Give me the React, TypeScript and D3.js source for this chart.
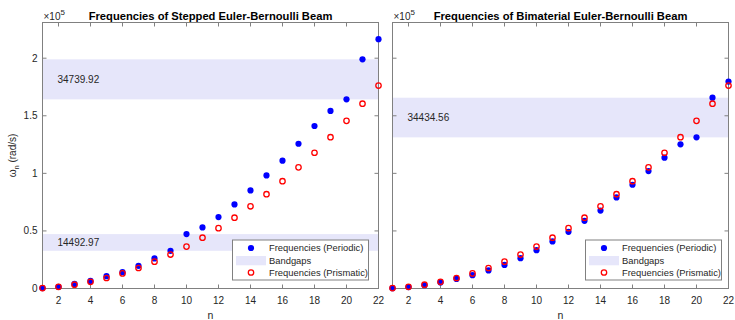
import React from 'react';
import * as d3 from 'd3';

// mode number
const modes = [1, 2, 3, 4, 5, 6, 7, 8, 9, 10, 11, 12, 13, 14, 15, 16, 17, 18, 19, 20, 21, 22];

// natural frequencies (rad/s)
const steppedPeriodic = [
  400, 1400, 4000, 6600, 10700, 14200, 19700, 26100, 32757, 47250, 53000,
  62000, 73000, 85200, 98200, 111000, 125700, 141100, 154200, 164260, 199000, 216500,
];
const bimaterialPeriodic = [
  300, 1200, 2900, 5300, 8300, 11600, 15700, 20500, 26300, 33300, 40900,
  49200, 58800, 67700, 79100, 90100, 102000, 113600, 125200, 131260, 165695, 179700,
];
const prismatic = [
  360, 1460, 3300, 5800, 9100, 13100, 17800, 23300, 29500, 36400, 44100,
  52400, 61500, 71400, 81900, 93200, 105200, 117900, 131400, 145600, 160500, 176200,
];

// bandgaps [lower, upper] and their widths
const steppedBands: [number, number][] = [[32757, 47250], [164260, 199000]];
const steppedBandLabels = ['14492.97', '34739.92'];
const bimaterialBands: [number, number][] = [[131260, 165695]];
const bimaterialBandLabels = ['34434.56'];

const xTicks = [2, 4, 6, 8, 10, 12, 14, 16, 18, 20, 22];
const yTicks = [0, 50000, 100000, 150000, 200000];

const FONT = '"Liberation Sans", Arial, Helvetica, sans-serif';
const TEXT = '#262626';
const AXIS = '#808080';
const BLUE = '#0000FF';
const RED = '#FF0000';
const BAND = '#E6E6FA';

const top = 22.5;
const bottom = 288.5;
const panelW = 336;

interface PanelProps {
  left: number;
  title: string;
  periodic: number[];
  bands: [number, number][];
  bandLabels: string[];
  showYLabels: boolean;
  legendGap: number;
}

function Panel({ left, title, periodic, bands, bandLabels, showYLabels, legendGap }: PanelProps) {
  const right = left + panelW;
  const x = d3.scaleLinear().domain([1, 22]).range([left, right]);
  const y = d3.scaleLinear().domain([0, 231000]).range([bottom, top]);
  const tl = 4;

  const lgW = 136;
  const lgH = 40;
  const lgX = right - legendGap - lgW;
  const lgY = bottom - 8.5 - lgH;

  return (
    <g>
      {/* bandgaps */}
      {bands.map((b, i) => (
        <g key={'b' + i}>
          <rect x={left} y={y(b[1])} width={panelW} height={y(b[0]) - y(b[1])} fill={BAND} />
          <text
            x={x(2) - 1}
            y={(y(b[0]) + y(b[1])) / 2}
            dy="0.35em"
            fontSize={10}
            fill={TEXT}
            fontFamily={FONT}
          >
            {bandLabels[i]}
          </text>
        </g>
      ))}

      {/* box and ticks */}
      <rect x={left} y={top} width={panelW} height={bottom - top} fill="none" stroke={AXIS} strokeWidth={1} />
      {xTicks.map((t) => (
        <g key={'x' + t}>
          <line x1={x(t)} x2={x(t)} y1={bottom} y2={bottom - tl} stroke={AXIS} />
          <line x1={x(t)} x2={x(t)} y1={top} y2={top + tl} stroke={AXIS} />
          <text x={x(t)} y={303.5} textAnchor="middle" fontSize={10} fill={TEXT} fontFamily={FONT}>
            {t}
          </text>
        </g>
      ))}
      {yTicks.map((t) => (
        <g key={'y' + t}>
          <line x1={left} x2={left + tl} y1={y(t)} y2={y(t)} stroke={AXIS} />
          <line x1={right} x2={right - tl} y1={y(t)} y2={y(t)} stroke={AXIS} />
          {showYLabels && (
            <text x={left - 5} y={y(t)} dy="0.35em" textAnchor="end" fontSize={10} fill={TEXT} fontFamily={FONT}>
              {d3.format('~g')(t / 1e5)}
            </text>
          )}
        </g>
      ))}

      {/* exponent */}
      <text x={left + 1} y={20} fontSize={10} fill={TEXT} fontFamily={FONT}>
        ×10<tspan dy={-5} fontSize={8}>5</tspan>
      </text>

      {/* title */}
      <text
        x={(left + right) / 2}
        y={19.5}
        textAnchor="middle"
        fontSize={11.2}
        fontWeight="bold"
        fill="#000"
        fontFamily={FONT}
      >
        {title}
      </text>

      {/* x label */}
      <text x={(left + right) / 2} y={318.5} textAnchor="middle" fontSize={10.5} fill={TEXT} fontFamily={FONT}>
        n
      </text>

      {/* points */}
      {modes.map((m, i) => (
        <circle key={'p' + m} cx={x(m)} cy={y(periodic[i])} r={3.1} fill={BLUE} />
      ))}
      {modes.map((m, i) => (
        <circle key={'q' + m} cx={x(m)} cy={y(prismatic[i])} r={2.7} fill="none" stroke={RED} strokeWidth={1.3} />
      ))}

      {/* legend */}
      <g transform={`translate(${lgX},${lgY})`}>
        <rect x={0} y={0} width={lgW} height={lgH} fill="#fff" stroke={AXIS} strokeWidth={1} />
        <circle cx={18.5} cy={8} r={3.1} fill={BLUE} />
        <rect x={3.5} y={16} width={30} height={9.3} fill={BAND} />
        <circle cx={18.5} cy={32.5} r={2.7} fill="none" stroke={RED} strokeWidth={1.3} />
        {['Frequencies (Periodic)', 'Bandgaps', 'Frequencies (Prismatic)'].map((s, i) => (
          <text
            key={s}
            x={36.5}
            y={[8, 20.5, 32.5][i]}
            dy="0.35em"
            fontSize={9.4}
            fill={TEXT}
            fontFamily={FONT}
          >
            {s}
          </text>
        ))}
      </g>
    </g>
  );
}

export default function App() {
  return (
    <svg
      width={735}
      height={320}
      style={{ position: 'absolute', left: 0, top: 0, background: '#fff' }}
    >
      <rect width={735} height={320} fill="#fff" />
      <Panel
        left={42.5}
        title="Frequencies of Stepped Euler-Bernoulli Beam"
        periodic={steppedPeriodic}
        bands={steppedBands}
        bandLabels={steppedBandLabels}
        showYLabels={true}
        legendGap={10}
      />
      <Panel
        left={392.5}
        title="Frequencies of Bimaterial Euler-Bernoulli Beam"
        periodic={bimaterialPeriodic}
        bands={bimaterialBands}
        bandLabels={bimaterialBandLabels}
        showYLabels={false}
        legendGap={7}
      />
      {/* y label */}
      <text
        transform="translate(16,155.5) rotate(-90)"
        textAnchor="middle"
        fontSize={10}
        fill={TEXT}
        fontFamily={FONT}
      >
        ω<tspan dy={3} fontSize={7.5}>n</tspan>
        <tspan dy={-3}> (rad/s)</tspan>
      </text>
    </svg>
  );
}
